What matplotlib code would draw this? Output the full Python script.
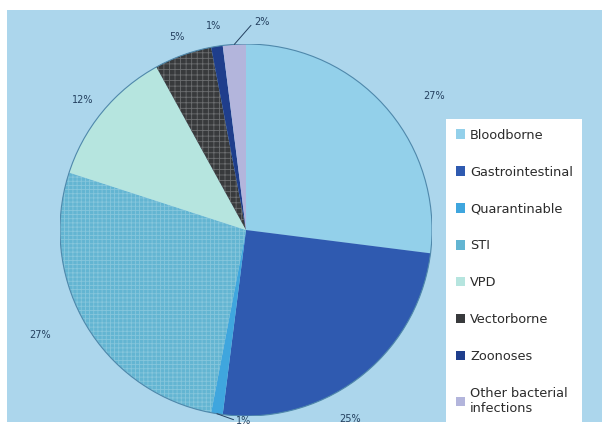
import numpy as np
import matplotlib
matplotlib.use("Agg")
import matplotlib.pyplot as plt
from matplotlib.patches import Patch, Circle

# データ
categories = ["Bloodborne", "Gastrointestinal", "Quarantinable", "STI", "VPD",
              "Vectorborne", "Zoonoses", "Other bacterial\ninfections"]
shares = [27, 25, 1, 27, 12, 5, 1, 2]
pct_labels = ["27%", "25%", "1%", "27%", "12%", "5%", "1%", "2%"]

# 見た目
colors = ["#93d0ea", "#2f5ab0", "#3fa6de", "#63b5d2", "#b6e5df", "#383a3c", "#1f3e8c", "#b3b5dc"]
hatches = [None, None, None, "++++", None, "+++", None, None]
hatch_cols = [None, None, None, "#86c6dc", None, "#6c6e70", None, None]
# ラベル配置（半径, 角度ずらし）
lab_r = [1.24, 1.16, None, 1.24, 1.12, 1.10, 1.11, None]
lab_shift = [-6, -9, 0, -3.6, 1, 0, 0, 0]
bg = "#acd6ec"
txt_col = "#24405f"

plt.rcParams["hatch.linewidth"] = 0.6
plt.rcParams["font.family"] = ["DejaVu Sans"]

fig = plt.figure(figsize=(6.02, 4.28), dpi=100)
fig.patch.set_facecolor("white")

# 背景パネル
bax = fig.add_axes([7 / 602, 6 / 428, 595 / 602, 412 / 428], zorder=-1)
bax.set_facecolor(bg)
bax.set_xticks([])
bax.set_yticks([])
for s in bax.spines.values():
    s.set_visible(False)

ax = fig.add_axes([60 / 602, 12 / 428, 372 / 602, 372 / 428])
wedges, _ = ax.pie(shares, colors=colors, startangle=90, counterclock=False,
                   wedgeprops=dict(linewidth=0))
for w, h, hc in zip(wedges, hatches, hatch_cols):
    if h:
        w.set_hatch(h)
        w.set_edgecolor(hc)
        w.set_linewidth(0)
ax.add_patch(Circle((0, 0), 1, fill=False, edgecolor="#4f88ab", linewidth=0.8))
ax.set_xlim(-1, 1)
ax.set_ylim(-1, 1)
ax.set_aspect("equal")

for i, w in enumerate(wedges):
    mid = (w.theta1 + w.theta2) / 2
    if lab_r[i] is not None:
        a = np.deg2rad(mid + lab_shift[i])
        ax.text(lab_r[i] * np.cos(a), lab_r[i] * np.sin(a), pct_labels[i],
                ha="center", va="center", fontsize=7, color=txt_col)
    else:
        a = np.deg2rad(mid)
        xy = (np.cos(a), np.sin(a))
        if xy[1] < 0:
            off = (14, -5)
        else:
            off = (14, 16)
        ax.annotate(pct_labels[i], xy=xy, xytext=off, textcoords="offset points",
                    ha="left", va="center", fontsize=7, color=txt_col,
                    arrowprops=dict(arrowstyle="-", color=txt_col, lw=0.7,
                                    shrinkA=0, shrinkB=0, relpos=(0, 0.5)),
                    annotation_clip=False)

handles = [Patch(facecolor=c, edgecolor="none") for c in colors]
leg = fig.legend(handles, categories, loc="upper left",
                 bbox_to_anchor=(446 / 602, 1 - 119 / 428), borderaxespad=0,
                 fontsize=9.3, frameon=True, fancybox=False, framealpha=1,
                 handlelength=0.75, handleheight=0.75, handletextpad=0.35,
                 labelspacing=1.85, borderpad=0.75)
leg.get_frame().set_edgecolor("none")
leg.get_frame().set_facecolor("white")
for t in leg.get_texts():
    t.set_color("#2b2b2b")

fig.savefig("out.png", dpi=100, facecolor="white")
